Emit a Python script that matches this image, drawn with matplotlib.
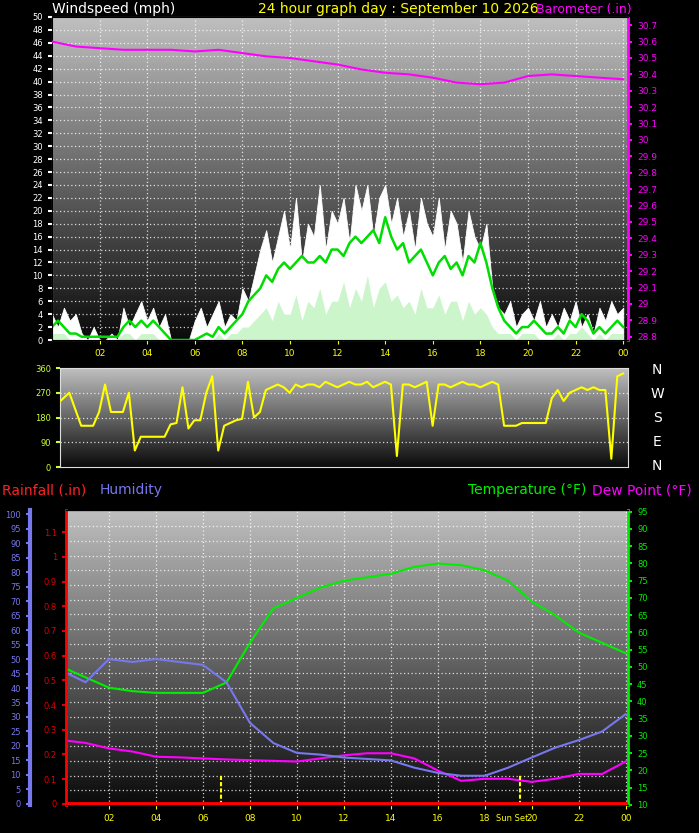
import numpy as np
import matplotlib
matplotlib.use("Agg")
import matplotlib.pyplot as plt

# --- data (4 samples per hour, hour 0..24) ---
hours = np.arange(97) / 4.0
gust = [4, 2, 5, 3, 4, 1, 0, 2, 0, 0, 1, 0, 5, 2, 4, 6, 3, 5, 2, 4, 0, 0, 0, 0,
        3, 5, 2, 4, 6, 2, 4, 3, 8, 6, 10, 14, 17, 12, 16, 20, 14, 22, 12, 18,
        16, 24, 14, 20, 18, 22, 15, 24, 20, 24, 16, 22, 24, 18, 22, 16, 20, 14, 22, 18,
        16, 22, 14, 20, 18, 12, 20, 16, 14, 18, 8, 5, 4, 6, 2, 4, 5, 3, 6, 2,
        4, 2, 5, 3, 6, 2, 4, 1, 5, 3, 6, 4, 5]
wind_avg = [2, 3, 2, 1, 1, 0.5, 0.5, 0.5, 0.5, 0.5, 0.5, 0.5, 2, 3, 2, 3, 2, 3, 2, 1,
            0, 0, 0, 0, 0, 0.5, 1, 0.5, 2, 1, 2, 3, 4, 6, 7, 8, 10, 9, 11, 12,
            11, 12, 13, 12, 12, 13, 12, 14, 14, 13, 15, 16, 15, 16, 17, 15, 19, 16, 14, 15,
            12, 13, 14, 12, 10, 12, 13, 11, 12, 10, 13, 12, 15, 12, 8, 5, 3, 2, 1, 2,
            2, 3, 2, 1, 1, 2, 1, 3, 2, 4, 3, 1, 2, 1, 2, 3, 2]
wind_low = [1, 1, 1, 0, 0, 0, 0, 0, 0, 0, 0, 0, 1, 1, 0, 1, 1, 1, 0, 0,
            0, 0, 0, 0, 0, 0, 0, 0, 1, 0, 1, 1, 2, 2, 3, 4, 5, 3, 6, 4,
            4, 7, 3, 6, 5, 8, 4, 6, 6, 9, 5, 8, 6, 10, 5, 8, 9, 6, 7, 5,
            6, 4, 8, 5, 5, 7, 4, 6, 6, 3, 6, 4, 5, 4, 2, 1, 1, 1, 0, 1,
            1, 1, 0, 0, 0, 1, 0, 1, 1, 2, 1, 0, 1, 0, 1, 1, 1]
direction = [230, 230, 250, 270, 210, 150, 150, 150, 200, 300, 200, 200,
             200, 270, 60, 110, 110, 110, 110, 110, 155, 160, 290, 140,
             170, 170, 270, 330, 60, 150, 160, 170, 175, 310, 180, 200,
             280, 290, 300, 290, 270, 300, 290, 300, 300, 290, 310, 300,
             290, 300, 310, 300, 300, 310, 290, 300, 310, 300, 40, 300,
             300, 290, 300, 310, 150, 300, 300, 290, 300, 310, 300, 300,
             290, 300, 310, 300, 150, 150, 150, 160, 160, 160, 160, 160,
             250, 280, 240, 270, 280, 290, 280, 290, 280, 280, 30, 330, 340]

h_hourly = np.arange(25)
baro = [30.60, 30.57, 30.56, 30.55, 30.55, 30.55, 30.54, 30.55, 30.53, 30.51, 30.50,
        30.48, 30.46, 30.43, 30.41, 30.40, 30.38, 30.35, 30.34, 30.35, 30.39, 30.40,
        30.39, 30.38, 30.37]
temp = [50, 47, 44, 43, 42.5, 42.5, 42.5, 45.5, 57, 67, 70, 73, 75, 76, 77, 79,
        80, 79.5, 78, 75, 69, 65, 60, 57, 54]
humidity = [46, 42, 50, 49, 50, 49, 48, 42, 28, 21, 17.6, 17, 16, 15.5, 15, 12.5,
            10.7, 9.7, 9.7, 12.5, 16, 19.4, 22, 25, 31]
dewpoint = [28.8, 28, 26.4, 25.5, 24, 23.8, 23.5, 23.2, 23, 22.8, 22.6, 23.5, 24.4,
            25, 25, 23.5, 20, 17, 17.6, 17.6, 16.7, 17.6, 19, 19, 22.6]
sunrise, sunset = 6.75, 19.5
xtick_hours = [2, 4, 6, 8, 10, 12, 14, 16, 18, 20, 22, 24]
xtick_labels = ["02", "04", "06", "08", "10", "12", "14", "16", "18", "20", "22", "00"]
rain_ticks = [0, 0.1, 0.2, 0.3, 0.4, 0.5, 0.6, 0.7, 0.8, 0.9, 1, 1.1]

W, H = 699, 833
fig = plt.figure(figsize=(W / 100, H / 100), dpi=100, facecolor="black")


def box(l, t, r, b):
    return [l / W, 1 - b / H, (r - l) / W, (b - t) / H]


def backdrop(ax):
    grad = np.linspace(0.75, 0.04, 256).reshape(-1, 1)
    ax.imshow(grad, cmap="gray", vmin=0, vmax=1, aspect="auto",
              extent=[0, 1, 0, 1], transform=ax.transAxes, zorder=0)
    ax.set_facecolor("black")


def dotted_grid(ax, ys, xs):
    for y in ys:
        ax.axhline(y, color="white", ls=(0, (1, 2)), lw=0.9, alpha=0.8, zorder=1)
    for x in xs:
        ax.axvline(x, color="white", ls=(0, (1, 2)), lw=0.9, alpha=0.8, zorder=1)


# --- top: wind + barometer ---
ax1 = fig.add_axes(box(52, 17, 628, 340))
backdrop(ax1)
ax1.set_xlim(0, 24.2)
ax1.set_ylim(0, 50)
dotted_grid(ax1, range(2, 50, 2), xtick_hours)
ax1.fill_between(hours, 0, gust, color="white", lw=0.6, edgecolor="white", zorder=2)
ax1.fill_between(hours, 0, wind_low, color="#ccf5cc", lw=0, zorder=3)
ax1.plot(hours, wind_avg, color="#00dd00", lw=1.8, zorder=4)
ax1.set_yticks(range(0, 51, 2))
ax1.tick_params(axis="y", colors="white", labelsize=6, length=3, width=1.5)
ax1.set_xticks(xtick_hours)
ax1.set_xticklabels(xtick_labels)
ax1.tick_params(axis="x", colors="yellow", labelsize=6.5, length=3)
for s in ax1.spines.values():
    s.set_color("#dddddd")
ax1b = ax1.twinx()
ax1b.set_ylim(28.78, 30.75)
ax1b.plot(h_hourly, baro, color="#ff00ff", lw=1.5, zorder=5)
baro_ticks = np.round(np.arange(28.8, 30.71, 0.1), 1)
ax1b.set_yticks(baro_ticks)
ax1b.set_yticklabels([f"{v:g}" for v in baro_ticks])
ax1b.tick_params(axis="y", colors="#ff00ff", labelsize=6.5, length=3, width=1.5)
ax1b.spines["right"].set_color("#ff00ff")
ax1b.spines["right"].set_linestyle((0, (2, 1)))
ax1b.spines["right"].set_linewidth(2)

fig.text(52 / W, 1 - 9 / H, "Windspeed (mph)", color="white", fontsize=10, va="center")
fig.text(398 / W, 1 - 9 / H, "24 hour graph day : September 10 2026", color="yellow",
         fontsize=10, va="center", ha="center")
fig.text(632 / W, 1 - 9 / H, "Barometer (.in)", color="#ff00ff", fontsize=9,
         va="center", ha="right")

# --- middle: wind direction ---
ax2 = fig.add_axes(box(60, 368, 628, 467))
backdrop(ax2)
ax2.set_xlim(0.36, 24.2)
ax2.set_ylim(0, 360)
dotted_grid(ax2, [90, 180, 270], [])
ax2.plot(hours, direction, color="yellow", lw=1.5, zorder=3)
ax2.set_yticks([0, 90, 180, 270, 360])
ax2.tick_params(axis="y", colors="#ccff33", labelsize=6, length=3, width=1.5)
ax2.set_xticks([])
for s in ax2.spines.values():
    s.set_color("#dddddd")
for lbl, y in zip("NWSEN", [370, 394, 418, 442, 466]):
    fig.text(657 / W, 1 - y / H, lbl, color="white", fontsize=10, ha="center", va="center")

# --- bottom: rain, humidity, temperature, dew point ---
ax3 = fig.add_axes(box(66, 510, 628, 805))
backdrop(ax3)
ax3.set_xlim(0.17, 24.1)
ax3.set_ylim(10, 95.5)
dotted_grid(ax3, np.arange(10 + 85 / 20, 95, 85 / 20), xtick_hours)
ax3.plot(h_hourly, temp, color="#00ee00", lw=1.5, zorder=4)
ax3.plot(h_hourly, dewpoint, color="#ff00ff", lw=1.5, zorder=4)
ax3.set_xticks(xtick_hours)
ax3.set_xticklabels(xtick_labels)
ax3.tick_params(axis="x", colors="yellow", labelsize=6.5, length=3)
for x in [sunrise, sunset]:
    ax3.plot([x, x], [10, 19], color="yellow", ls=(0, (2, 1)), lw=1.5, zorder=5)
ax3.text(sunset - 0.35, -0.045, "Sun Set", color="yellow", fontsize=6, ha="center",
         va="center", transform=ax3.get_xaxis_transform())

ax_hum = ax3.twinx()
ax_hum.set_ylim(-0.4, 101.5)
ax_hum.plot(h_hourly, humidity, color="#7777ee", lw=1.5, zorder=4)
ax_hum.yaxis.tick_left()
ax_hum.spines["left"].set_position(("outward", 26))
ax_hum.spines["left"].set_visible(True)
ax_hum.spines["left"].set_color("#7777ee")
ax_hum.spines["left"].set_linewidth(3)
ax_hum.set_yticks(range(0, 101, 5))
ax_hum.tick_params(axis="y", colors="#7777ee", labelsize=6, length=3, width=1.5)

ax_rain = ax3.twinx()
ax_rain.set_ylim(-0.005, 1.19)
ax_rain.axhline(0, color="red", lw=3.5, zorder=6)
ax_rain.yaxis.tick_left()
ax_rain.spines["left"].set_visible(True)
ax_rain.spines["left"].set_color("red")
ax_rain.spines["left"].set_linewidth(2)
ax_rain.spines["left"].set_linestyle((0, (2, 1)))
ax_rain.set_yticks(rain_ticks)
ax_rain.set_yticklabels([f"{v:g}" for v in rain_ticks])
ax_rain.tick_params(axis="y", colors="#dd0000", labelsize=6, length=3, width=1.5)

# twinx moves the host ticks to the left; put temperature back on the right
ax3.yaxis.tick_right()
ax3.set_yticks(range(10, 96, 5))
ax3.tick_params(axis="y", colors="#00ee00", labelsize=6, length=3, width=1.5)
ax3.spines["right"].set_visible(True)
ax3.spines["right"].set_color("#00ee00")
ax3.spines["right"].set_linewidth(2)
ax3.spines["right"].set_linestyle((0, (2, 1)))
for a in (ax_hum, ax_rain):
    a.spines["right"].set_visible(False)
    a.set_xlim(ax3.get_xlim())

fig.text(2 / W, 1 - 490 / H, "Rainfall (.in)", color="#ff2222", fontsize=10, va="center")
fig.text(100 / W, 1 - 490 / H, "Humidity", color="#7777ee", fontsize=10, va="center")
fig.text(468 / W, 1 - 490 / H, "Temperature (°F)", color="#00ee00", fontsize=10, va="center")
fig.text(592 / W, 1 - 490 / H, "Dew Point (°F)", color="#ff00ff", fontsize=10, va="center")

fig.savefig("out.png", dpi=100, facecolor="black")
